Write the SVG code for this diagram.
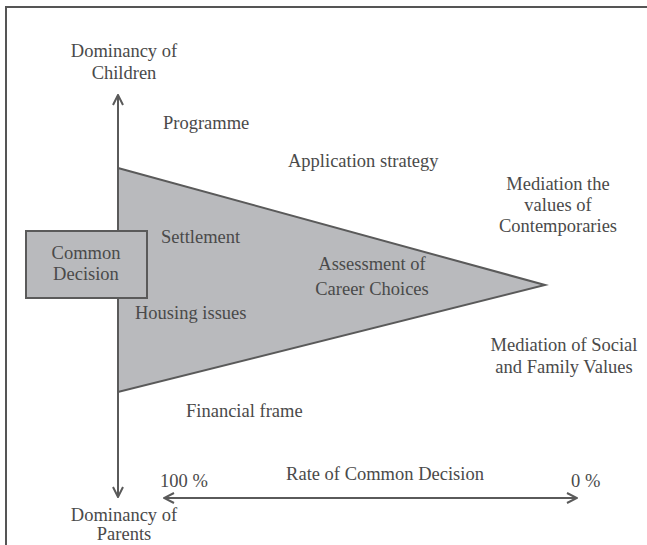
<svg xmlns="http://www.w3.org/2000/svg" width="647" height="545" viewBox="0 0 647 545">
<defs>
<style>
text{font-family:"Liberation Serif","Times New Roman",serif;font-size:18.5px;fill:#4a4a4a}
.c{text-anchor:middle}
.ln{stroke:#5a5a5a;stroke-width:2;fill:none}
.sh{fill:#b9babd;stroke:#5a5a5a;stroke-width:2}
</style>
<marker id="ah" viewBox="0 0 12 12" refX="11" refY="6" markerWidth="12" markerHeight="12" markerUnits="userSpaceOnUse" orient="auto-start-reverse">
<path d="M1,1 L11,6 L1,11" fill="none" stroke="#5a5a5a" stroke-width="2"/>
</marker>
</defs>
<rect width="647" height="545" fill="#fff"/>
<path d="M6,545 V7 H647" fill="none" stroke="#555" stroke-width="2"/>
<g id="connectors">
<line class="ln" x1="118" y1="497" x2="118" y2="95" marker-end="url(#ah)"/>
<line class="ln" x1="118" y1="95" x2="118" y2="497" marker-end="url(#ah)"/>
<line class="ln" x1="164" y1="498" x2="577" y2="498" marker-start="url(#ah)" marker-end="url(#ah)"/>
</g>
<g id="triangle"><polygon class="sh" points="118,168 545,285 118,392"/></g>
<g id="common-decision">
<rect class="sh" x="26" y="231" width="121" height="67"/>
<text class="c" x="86" y="259">Common</text>
<text class="c" x="86" y="280">Decision</text>
</g>
<g id="children"><text class="c" x="124" y="57">Dominancy of</text><text class="c" x="124" y="79">Children</text></g>
<g id="parents"><text class="c" x="124" y="521">Dominancy of</text><text class="c" x="124" y="540">Parents</text></g>
<g id="programme"><text x="163" y="129">Programme</text></g>
<g id="application"><text x="288" y="167">Application strategy</text></g>
<g id="contemporaries"><text class="c" x="558" y="190">Mediation the</text><text class="c" x="558" y="211">values of</text><text class="c" x="558" y="232">Contemporaries</text></g>
<g id="settlement"><text x="161" y="243">Settlement</text></g>
<g id="assessment"><text class="c" x="372" y="270">Assessment of</text><text class="c" x="372" y="295">Career Choices</text></g>
<g id="housing"><text x="135" y="319">Housing issues</text></g>
<g id="social"><text class="c" x="564" y="351">Mediation of Social</text><text class="c" x="564" y="373">and Family Values</text></g>
<g id="financial"><text x="186" y="417">Financial frame</text></g>
<g id="rate"><text class="c" x="385" y="480">Rate of Common Decision</text></g>
<g id="p100"><text x="160" y="487">100 %</text></g>
<g id="p0"><text x="571" y="487">0 %</text></g>
</svg>
